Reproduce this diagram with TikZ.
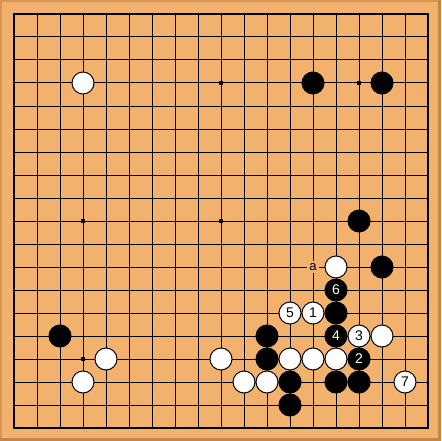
\documentclass[tikz,border=0pt]{standalone}
\usepackage{fontspec}
\setmainfont{Liberation Sans}
\usetikzlibrary{calc}
\definecolor{boardwood}{RGB}{242,178,110}
\definecolor{boardlight}{RGB}{214,150,86}
\definecolor{boarddark}{RGB}{196,134,74}
\tikzset{
  stone/.style={circle, draw=black, line width=1pt, minimum size=22pt, inner sep=0pt,
    font=\fontsize{14}{14}\selectfont},
  bstone/.style={stone, fill=black, text=white},
  wstone/.style={stone, fill=white, text=black},
  hoshi/.style={fill=black, minimum size=4pt, inner sep=0pt},
  pointlabel/.style={fill=boardwood, inner sep=2pt, font=\fontsize{13}{13}\selectfont}
}
\begin{document}
\begin{tikzpicture}[x=23pt,y=-23pt]
% board
\fill[boardwood] (-0.6087,-0.6087) rectangle (18.5652,18.5652);
\useasboundingbox (-0.6087,-0.6087) rectangle (18.5652,18.5652);
\draw[boardlight, line width=2pt] (-0.5652,18.5652) -- (-0.5652,-0.5652) -- (18.5652,-0.5652);
\draw[boarddark, line width=3pt] (18.5000,-0.6087) -- (18.5000,18.5000) -- (-0.6087,18.5000);
% lines
\foreach \i in {0,...,18} {
  \draw[line width=1pt] (\i,0) -- (\i,18);
  \draw[line width=1pt] (0,\i) -- (18,\i);
}
\draw[line width=1.5pt] (0,0) rectangle (18,18);
\foreach \x in {3,9,15}
  \foreach \y in {3,9,15}
    \node[hoshi] (hoshi-\x-\y) at (\x,\y) {};
% marked point
\node[pointlabel] (a) at (13,11) {a};
% black stones
\foreach \x/\y in {13/3,16/3,15/9,16/11,11/14,2/14,11/15,12/16,14/16,15/16,12/17}
  \node[bstone] (b-\x-\y) at (\x,\y) {};
% white stones
\foreach \x/\y in {3/3,14/11,16/14,4/15,9/15,12/15,13/15,14/15,3/16,10/16,11/16}
  \node[wstone] (w-\x-\y) at (\x,\y) {};
% the sequence
\node[wstone] (m1) at (13,13) {1};
\node[bstone] (m2) at (15,15) {2};
\node[wstone] (m3) at (15,14) {3};
\node[bstone] (m4) at (14,14) {4};
\node[wstone] (m5) at (12,13) {5};
\node[bstone] (m6) at (14,12) {6};
\node[wstone] (m7) at (17,16) {7};
\node[bstone] (b-14-13) at (14,13) {};
\end{tikzpicture}
\end{document}
